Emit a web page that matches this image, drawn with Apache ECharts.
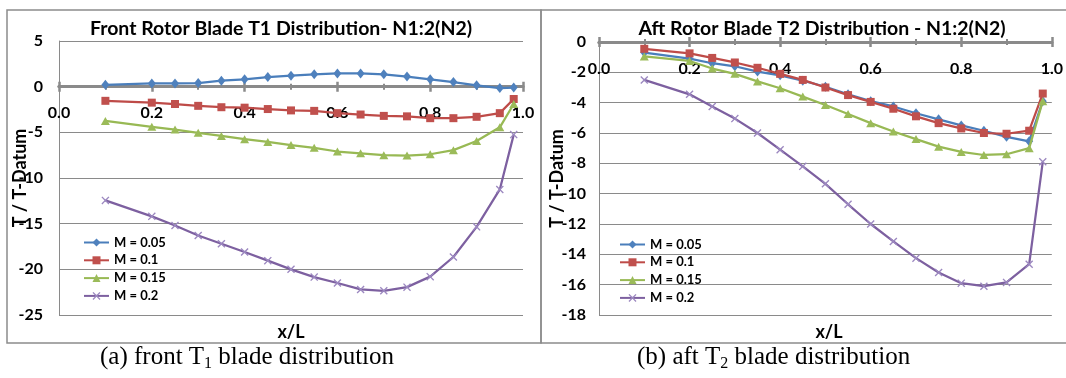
<!DOCTYPE html>
<html>
<head>
<meta charset="utf-8">
<script src="https://cdn.jsdelivr.net/npm/echarts@6/dist/echarts.min.js"></script>
<style>
  html, body { margin: 0; padding: 0; background: #fff; }
  #chart { width: 1066px; height: 378px; }
</style>
</head>
<body>
<div id="chart"></div>
<script>
// Blade stations along the chord (x/L)
const stations = [0.1, 0.2, 0.25, 0.3, 0.35, 0.4, 0.45, 0.5, 0.55, 0.6, 0.65, 0.7, 0.75, 0.8, 0.85, 0.9, 0.95, 0.98];
const machNames = ['M = 0.05', 'M = 0.1', 'M = 0.15', 'M = 0.2'];

// Front rotor blade T1 (T / T-Datum)
const frontM005 = [0.2, 0.35, 0.35, 0.4, 0.65, 0.8, 1.05, 1.2, 1.35, 1.45, 1.45, 1.35, 1.1, 0.8, 0.5, 0.15, -0.15, -0.1];
const frontM010 = [-1.55, -1.75, -1.9, -2.1, -2.25, -2.3, -2.45, -2.6, -2.65, -2.9, -3.05, -3.2, -3.25, -3.45, -3.45, -3.3, -2.9, -1.35];
const frontM015 = [-3.75, -4.4, -4.7, -5.05, -5.4, -5.75, -6.05, -6.4, -6.7, -7.1, -7.3, -7.5, -7.55, -7.4, -6.95, -5.95, -4.45, -1.9];
const frontM020 = [-12.45, -14.2, -15.2, -16.3, -17.2, -18.1, -19.05, -20.0, -20.85, -21.5, -22.2, -22.35, -21.95, -20.8, -18.65, -15.35, -11.25, -5.25];

// Aft rotor blade T2 (T / T-Datum)
const aftM005 = [-0.7, -1.1, -1.4, -1.6, -1.95, -2.2, -2.55, -2.95, -3.45, -3.9, -4.25, -4.7, -5.1, -5.5, -5.85, -6.25, -6.55, -3.9];
const aftM010 = [-0.45, -0.75, -1.05, -1.35, -1.7, -2.1, -2.5, -3.0, -3.5, -3.95, -4.4, -4.9, -5.35, -5.7, -6.0, -6.05, -5.85, -3.4];
const aftM015 = [-0.95, -1.25, -1.75, -2.1, -2.6, -3.05, -3.6, -4.15, -4.75, -5.35, -5.9, -6.4, -6.9, -7.25, -7.45, -7.4, -7.0, -3.9];
const aftM020 = [-2.5, -3.45, -4.25, -5.05, -6.0, -7.1, -8.2, -9.35, -10.7, -12.0, -13.15, -14.25, -15.2, -15.9, -16.1, -15.85, -14.65, -7.9];

// Axis ranges
const xRange = { min: 0, max: 1, interval: 0.2 };
const frontRange = { min: -25, max: 5, interval: 5 };
const aftRange = { min: -18, max: 0, interval: 2 };

const FONT = 'Lato, "Open Sans", sans-serif';
const SERIF = '"Liberation Serif", "Times New Roman", serif';
const AXIS_GREY = '#8a8a8a';

// Plot boxes
const frontGrid = { left: 59, top: 41, width: 464, height: 274 };
const aftGrid = { left: 599, top: 42, width: 459, height: 273 };

const styles = [
  { symbol: 'diamond', size: [8, 10], line: '#4A7EBB', mark: '#4F81BD' },
  { symbol: 'rect', size: 8, line: '#BE4B48', mark: '#C0504D' },
  { symbol: 'triangle', size: [9, 8], line: '#98B954', mark: '#9BBB59' },
  { symbol: 'path://M0,1.2L1.2,0L5,3.8L8.8,0L10,1.2L6.2,5L10,8.8L8.8,10L5,6.2L1.2,10L0,8.8L3.8,5Z', size: 8, line: '#7D60A0', mark: '#9c88c0' }
];

function pairs(ys) { return stations.map((x, i) => [x, ys[i]]); }

function makeSeries(valuesList, xIdx, yIdx) {
  return valuesList.map((vals, i) => ({
    name: machNames[i],
    type: 'line',
    xAxisIndex: xIdx,
    yAxisIndex: yIdx,
    data: pairs(vals),
    symbol: styles[i].symbol,
    symbolSize: styles[i].size,
    showAllSymbol: true,
    lineStyle: { color: styles[i].line, width: 2.25 },
    itemStyle: { color: styles[i].mark },
    emphasis: { disabled: true },
    z: 3 + i
  }));
}

// The x axis sits on the T = 0 line: shift it up from the plot bottom
function zeroOffset(range, grid) {
  return -((0 - range.min) / (range.max - range.min)) * grid.height;
}

// Two overlaid x axes: one with outward ticks and labels, one with inward ticks,
// so the tick marks cross the axis line.
function xAxisPair(gridIndex, offset, labelMargin) {
  const common = {
    type: 'value', gridIndex: gridIndex,
    min: xRange.min, max: xRange.max, interval: xRange.interval,
    position: 'bottom', offset: offset,
    splitLine: { show: false },
    axisLine: { show: true, onZero: false, lineStyle: { color: AXIS_GREY, width: 3 } },
    minorTick: { show: true, splitNumber: 2, length: 3, lineStyle: { color: AXIS_GREY, width: 2 } }
  };
  return [
    Object.assign({}, common, {
      axisTick: { show: true, inside: false, length: 5, lineStyle: { color: AXIS_GREY, width: 2.5 } },
      axisLabel: {
        show: true, margin: labelMargin, color: '#000', fontFamily: FONT, fontWeight: 'bold', fontSize: 16,
        formatter: v => v.toFixed(1)
      }
    }),
    Object.assign({}, common, {
      axisTick: { show: true, inside: true, length: 5, lineStyle: { color: AXIS_GREY, width: 2.5 } },
      axisLabel: { show: false }
    })
  ];
}

function yAxisFor(gridIndex, range, labelMargin, nameGap) {
  return {
    type: 'value', gridIndex: gridIndex,
    min: range.min, max: range.max, interval: range.interval,
    name: 'T / T-Datum', nameLocation: 'middle', nameRotate: 90, nameGap: nameGap,
    nameMoveOverlap: false,
    nameTextStyle: { color: '#000', fontFamily: FONT, fontWeight: 'bold', fontSize: 18 },
    axisLine: { show: true, onZero: false, lineStyle: { color: AXIS_GREY, width: 1 } },
    axisTick: { show: false },
    splitLine: { show: true, lineStyle: { color: AXIS_GREY, width: 1 } },
    axisLabel: { color: '#000', fontFamily: FONT, fontWeight: 'bold', fontSize: 16, margin: labelMargin }
  };
}

function legendFor(left, top) {
  return {
    data: machNames, orient: 'vertical', left: left, top: top, padding: 0,
    itemWidth: 25, itemHeight: 10, itemGap: 4.8,
    selectedMode: false,
    textStyle: { color: '#000', fontFamily: FONT, fontWeight: 'bold', fontSize: 13 }
  };
}

const captionStyle = {
  color: '#000', fontFamily: SERIF, fontSize: 25, fontWeight: 'normal',
  rich: {
    n: { fontFamily: SERIF, fontSize: 25, color: '#000' },
    s: { fontFamily: SERIF, fontSize: 16, color: '#000', padding: [13, 0, 0, 0] }
  }
};

const titleStyle = { color: '#000', fontFamily: FONT, fontWeight: 'bold', fontSize: 19.5 };
const axisNameStyle = { fontFamily: FONT, fontWeight: 'bold', fontSize: 18, fill: '#000', textAlign: 'center', textVerticalAlign: 'middle' };

const option = {
  animation: false,
  backgroundColor: '#fff',
  title: [
    { text: 'Front Rotor Blade T1 Distribution- N1:2(N2)', left: 281, top: 29, textAlign: 'center', textVerticalAlign: 'middle', padding: 0, textStyle: titleStyle },
    { text: 'Aft Rotor Blade T2 Distribution - N1:2(N2)', left: 822, top: 29, textAlign: 'center', textVerticalAlign: 'middle', padding: 0, textStyle: titleStyle },
    { text: '{n|(a) front T}{s|1}{n| blade distribution}', left: 100, top: 357, textVerticalAlign: 'middle', padding: 0, textStyle: captionStyle },
    { text: '{n|(b) aft T}{s|2}{n| blade distribution}', left: 637, top: 357, textVerticalAlign: 'middle', padding: 0, textStyle: captionStyle }
  ],
  legend: [legendFor(83, 236), legendFor(619, 238)],
  grid: [frontGrid, aftGrid],
  xAxis: [].concat(
    xAxisPair(0, zeroOffset(frontRange, frontGrid), 18),
    xAxisPair(1, zeroOffset(aftRange, aftGrid), 19)
  ),
  yAxis: [yAxisFor(0, frontRange, 16, 30), yAxisFor(1, aftRange, 13, 33)],
  series: [].concat(
    makeSeries([frontM005, frontM010, frontM015, frontM020], 0, 0),
    makeSeries([aftM005, aftM010, aftM015, aftM020], 2, 1)
  ),
  graphic: [
    { type: 'rect', shape: { x: 7, y: 10, width: 534, height: 333 }, style: { fill: 'none', stroke: '#8c8c8c', lineWidth: 1.5 }, silent: true },
    { type: 'rect', shape: { x: 541, y: 10, width: 540, height: 333 }, style: { fill: 'none', stroke: '#8c8c8c', lineWidth: 1.5 }, silent: true },
    { type: 'text', x: 291, y: 332, style: Object.assign({ text: 'x/L' }, axisNameStyle), silent: true },
    { type: 'text', x: 829, y: 332, style: Object.assign({ text: 'x/L' }, axisNameStyle), silent: true }
  ]
};

const chart = echarts.init(document.getElementById('chart'), null, { renderer: 'canvas' });
chart.setOption(option);
</script>
</body>
</html>
